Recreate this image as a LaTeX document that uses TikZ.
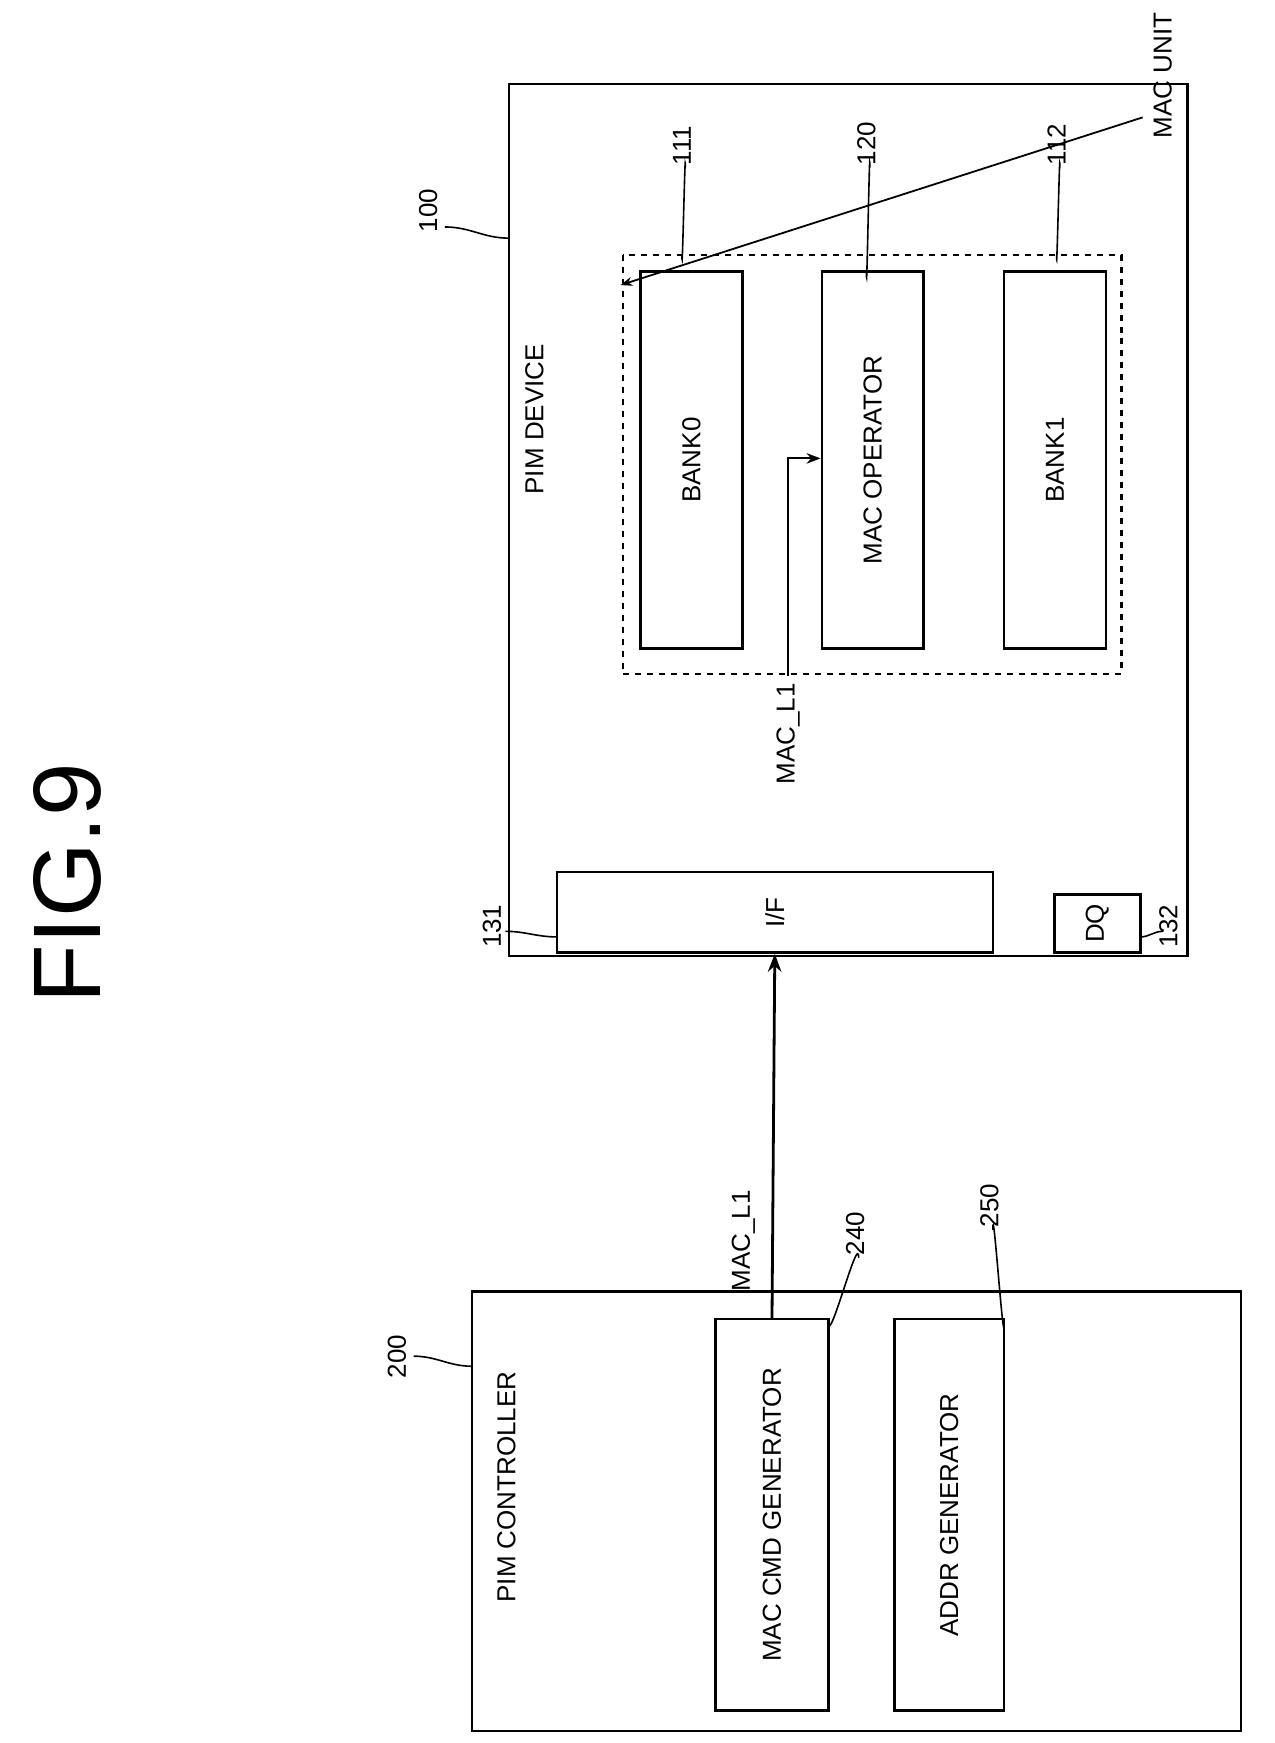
\documentclass[tikz,border=0pt]{standalone}
\usepackage{fontspec}
\setmainfont{Liberation Sans}
\usetikzlibrary{arrows.meta}
\begin{document}
\begin{tikzpicture}[x=0.5592pt,y=-0.5592pt,
  box/.style={draw,line width=1.2pt},
  lbl/.style={rotate=90,font=\fontsize{13}{15}\selectfont},
  num/.style={lbl,anchor=west,inner sep=1pt},
  sq/.style={line width=0.8pt},
  conn/.style={line width=1.4pt,-{Stealth[length=9pt]}}]
\useasboundingbox (0,0) rectangle (1140,1559);
\node[rotate=90,font=\fontsize{48}{54}\selectfont] (fig) at (60,790) {FIG.9};
% PIM device
\draw[box] (455,75) rectangle (1062,855);
\node[lbl] (pimlbl) at (478,375) {PIM DEVICE};
\draw[box,dashed] (557,228) rectangle (1003,603);
\node[box,lbl,minimum width=337pt*0.5592,minimum height=91pt*0.5592] (b0) at (618.5,411.5) {BANK0};
\node[box,lbl,minimum width=337pt*0.5592,minimum height=91pt*0.5592] (mo) at (780.5,411.5) {MAC OPERATOR};
\node[box,lbl,minimum width=337pt*0.5592,minimum height=91pt*0.5592] (b1) at (943.5,411.5) {BANK1};
\node[box,lbl,minimum width=72pt*0.5592,minimum height=390pt*0.5592] (if) at (693,816) {I/F};
\node[box,lbl,minimum width=52pt*0.5592,minimum height=77pt*0.5592] (dq) at (981.5,826) {DQ};
\node[lbl,anchor=west] (macunit) at (1040,130) {MAC UNIT};
\coordinate (mu1) at (1022,105);
\coordinate (mu2) at (555,255);
\draw[line width=0.9pt,-{Stealth[length=6pt]}] (mu1) -- (mu2);
% reference numbers
\node[num] (n100) at (383,210) {100};
\draw[sq] (398,203) to[out=0,in=180] (455,213);
\node[num] (n111) at (610,150) {111};
\draw[sq] (613,150) to[out=90,in=-90] (610,228);
\node[num] (n120) at (775,150) {120};
\draw[sq] (778,150) to[out=90,in=-90] (775,243);
\node[num] (n112) at (945,150) {112};
\draw[sq] (948,150) to[out=90,in=-90] (945,228);
\node[num] (n131) at (440,850) {131};
\draw[sq] (452,833) to[out=0,in=180] (498,838);
\node[num] (n132) at (1045,850) {132};
\draw[sq] (1020,838) to[out=0,in=180] (1040,833);
% internal MAC_L1
\node[lbl,anchor=east] (ml1in) at (705,605) {MAC\_L1};
\coordinate (bend) at (705,410);
\draw[line width=1pt,-{Stealth[length=7pt]}] (ml1in.east) -- (bend) -- (mo.north |- bend);
% PIM controller
\draw[box] (422,1155) rectangle (1110,1548);
\node[lbl] (pclbl) at (453,1330) {PIM CONTROLLER};
\node[box,lbl,minimum width=350pt*0.5592,minimum height=101pt*0.5592] (cmd) at (690.5,1355) {MAC CMD GENERATOR};
\node[box,lbl,minimum width=350pt*0.5592,minimum height=98pt*0.5592] (addr) at (849,1355) {ADDR GENERATOR};
\node[num] (n200) at (355,1235) {200};
\draw[sq] (370,1213) to[out=0,in=180] (422,1222);
\node[num] (n240) at (765,1125) {240};
\draw[sq] (768,1125) to[out=90,in=-90] (741,1182);
\node[num] (n250) at (885,1100) {250};
\draw[sq] (888,1100) to[out=90,in=-90] (898,1182);
\node[lbl] (ml1) at (665,1110) {MAC\_L1};
\draw[conn] (cmd.east) -- (if.west);
\end{tikzpicture}
\end{document}
